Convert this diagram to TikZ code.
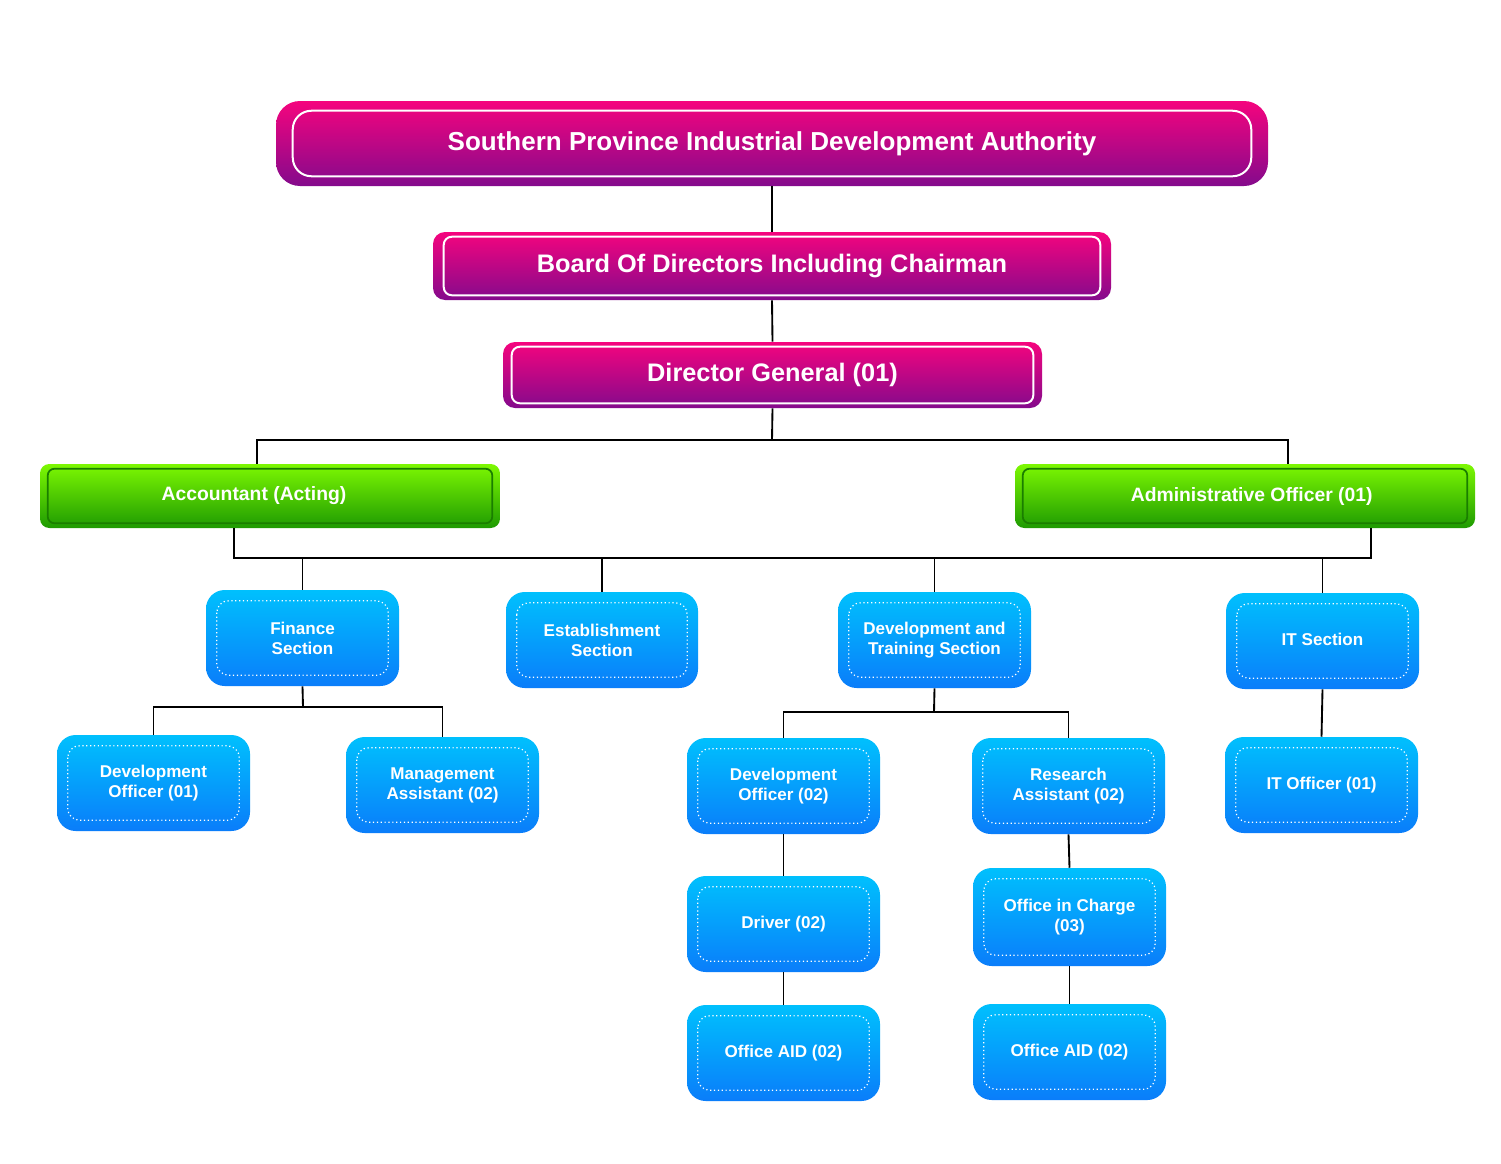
\documentclass[tikz,border=0pt]{standalone}
\usepackage{fontspec}
\setmainfont{Liberation Sans}
\usetikzlibrary{calc}
\definecolor{magTop}{HTML}{F5047E}
\definecolor{magBot}{HTML}{840A8C}
\definecolor{grnTop}{HTML}{7DF802}
\definecolor{grnBot}{HTML}{1E9A02}
\definecolor{grnLine}{HTML}{1A7E00}
\definecolor{bluTop}{HTML}{00C0FD}
\definecolor{bluBot}{HTML}{0A7DFA}
\newcommand{\bx}[7]{%
  \node[#2, minimum width={(#5-#3)*0.75pt}, minimum height={(#6-#4)*0.75pt}]
    (#1) at ({(#3+#5)/2},{(#4+#6)/2}) {#7};}
\newcommand{\inbox}[4]{% name, inset x px, inset y px, style
  \draw[#4] ([shift={(#2*0.75pt,-#3*0.75pt)}]#1.north west) rectangle ([shift={(-#2*0.75pt,#3*0.75pt)}]#1.south east);}
\tikzset{
  base/.style={inner sep=0pt, align=center, text=white, font=\bfseries},
  magbox/.style={base, rounded corners=18pt, top color=magTop, bottom color=magBot},
  grnbox/.style={base, rounded corners=7pt, top color=grnTop, bottom color=grnBot,
    font=\bfseries\fontsize{14.5}{17}\selectfont},
  blubox/.style={base, rounded corners=14pt, top color=bluTop, bottom color=bluBot,
    font=\bfseries\fontsize{12.8}{15}\selectfont},
  maginner/.style={white, line width=1.5pt, rounded corners=14pt},
  grninner/.style={grnLine, line width=1.3pt, rounded corners=5pt},
  bluinner/.style={white, line width=0.9pt, dotted, rounded corners=9pt},
  conn/.style={black, line width=1.4pt},
  lower/.style={text depth=0pt, execute at begin node={\raisebox{-#1*0.75pt}\bgroup}, execute at end node={\egroup}}
}
\begin{document}
\begin{tikzpicture}[x=0.75pt, y=-0.75pt]
\useasboundingbox[fill=white] (0,0) rectangle (1501,1163);
% top level
\bx{top}{magbox, font=\bfseries\fontsize{19.5}{24}\selectfont}{276}{101}{1268}{186}{\raisebox{-2pt}{Southern Province Industrial Development Authority}}
\inbox{top}{17}{10}{maginner}
\bx{board}{magbox, rounded corners=9pt, font=\bfseries\fontsize{19}{23}\selectfont}{433}{232}{1111}{300}{\raisebox{-1pt}{Board Of Directors Including Chairman}}
\inbox{board}{11}{5}{maginner, rounded corners=6pt}
\bx{dg}{magbox, rounded corners=9pt, font=\bfseries\fontsize{19}{23}\selectfont}{503}{342}{1042}{408}{\raisebox{-1pt}{Director General (01)}}
\inbox{dg}{9}{5}{maginner, rounded corners=6pt}
% green
\bx{acc}{grnbox}{40}{464}{500}{528}{\hspace*{-24pt}\raisebox{-3pt}{Accountant (Acting)}}
\inbox{acc}{8}{5}{grninner}
\bx{adm}{grnbox}{1015}{464}{1475}{528}{\hspace*{10pt}\raisebox{-3pt}{Administrative Officer (01)}}
\inbox{adm}{8}{5}{grninner}
% sections
\bx{fin}{blubox}{206}{590}{399}{686}{Finance\\Section}
\bx{est}{blubox}{506}{592}{698}{688}{Establishment\\Section}
\bx{dts}{blubox}{838}{592}{1031}{688}{Development and\\Training Section}
\bx{its}{blubox}{1226}{593}{1419}{689}{\raisebox{3pt}{IT Section}}
\bx{do1}{blubox}{57}{735}{250}{831}{Development\\Officer (01)}
\bx{ma}{blubox}{346}{737}{539}{833}{Management\\Assistant (02)}
\bx{do2}{blubox}{687}{738}{880}{834}{Development\\Officer (02)}
\bx{ra}{blubox}{972}{738}{1165}{834}{Research\\Assistant (02)}
\bx{ito}{blubox}{1225}{737}{1418}{833}{\raisebox{3pt}{IT Officer (01)}}
\bx{drv}{blubox}{687}{876}{880}{972}{Driver (02)}
\bx{oa1}{blubox}{687}{1005}{880}{1101}{Office AID (02)}
\bx{oic}{blubox}{973}{868}{1166}{966}{Office in Charge\\(03)}
\bx{oa2}{blubox}{973}{1004}{1166}{1100}{Office AID (02)}
\foreach \n in {fin,est,dts,its,do1,ma,do2,ra,ito,drv,oa1,oic,oa2}{\inbox{\n}{11}{11}{bluinner}}
% connectors
\draw[conn] (top.south) -- (board.north);
\draw[conn] (board.south) -- (dg.north);
\coordinate (b1) at (772,440);
\coordinate (b1l) at (257,440);
\coordinate (b1r) at (1288,440);
\draw[conn] (dg.south) -- (b1);
\draw[conn] (b1l |- acc.north) -- (b1l) -- (b1r) -- (b1r |- adm.north);
\coordinate (b2l) at (234,558);
\coordinate (b2r) at (1371,558);
\draw[conn] (b2l |- acc.south) -- (b2l) -- (b2r) -- (b2r |- adm.south);
\foreach \n in {fin,est,dts,its}{\draw[conn] (\n.north) -- (\n.north |- b2l);}
\coordinate (b3) at (303,707);
\draw[conn] (fin.south) -- (b3);
\draw[conn] (do1.north) -- (do1.north |- b3) -- (ma.north |- b3) -- (ma.north);
\coordinate (b4) at (934,712);
\draw[conn] (dts.south) -- (b4);
\draw[conn] (do2.north) -- (do2.north |- b4) -- (ra.north |- b4) -- (ra.north);
\draw[conn] (its.south) -- (ito.north);
\draw[conn] (do2.south) -- (drv.north);
\draw[conn] (drv.south) -- (oa1.north);
\draw[conn] (ra.south) -- (oic.north);
\draw[conn] (oic.south) -- (oa2.north);
\end{tikzpicture}
\end{document}
